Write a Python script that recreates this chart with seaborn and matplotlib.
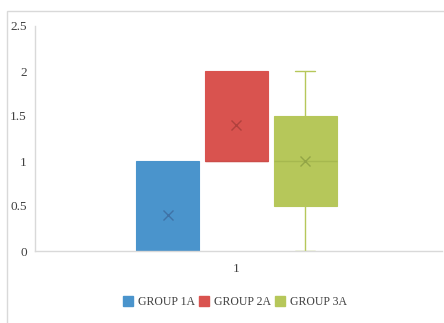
import matplotlib
matplotlib.use("Agg")
import matplotlib.pyplot as plt
import seaborn as sns
import pandas as pd
from matplotlib.patches import Patch, Rectangle

# ---- data ----
category = "1"
groups = ["GROUP 1A", "GROUP 2A", "GROUP 3A"]
group_1a = [0, 0, 0, 1, 1]
group_2a = [1, 1, 1, 2, 2]
group_3a = [0, 0.5, 1, 1.5, 2]
y_ticks = [0, 0.5, 1, 1.5, 2, 2.5]
y_tick_labels = ["0", "0.5", "1", "1.5", "2", "2.5"]

colors = ["#4A94CC", "#D9534F", "#B6C75A"]
line_colors = ["#4586BE", "#CC4D49", "#A6B84F"]
mean_colors = ["#3F72A6", "#B0413D", "#93A546"]

rows = []
for g, vals in zip(groups, [group_1a, group_2a, group_3a]):
    for v in vals:
        rows.append({"x": category, "group": g, "value": v})
df = pd.DataFrame(rows)

sns.set_theme(style="white")
plt.rcParams["font.family"] = ["Liberation Serif", "DejaVu Serif"]

fig = plt.figure(figsize=(4.44, 3.23), dpi=100)
W, H = 444, 323
ax = fig.add_axes([35 / W, (H - 251) / H, (442 - 35) / W, (251 - 26) / H])

sns.boxplot(
    data=df, x="x", y="value", hue="group", hue_order=groups,
    palette=colors, width=0.508, gap=0.087, showmeans=True, whis=1.5,
    meanprops=dict(marker="x", markersize=7, markeredgewidth=1.0),
    linewidth=1.0, legend=False, ax=ax,
)

for cont, c, lc, mc in zip(ax.containers, colors, line_colors, mean_colors):
    for b in cont.boxes:
        b.set_facecolor(c)
        b.set_edgecolor(c)
        b.set_linewidth(0.8)
    for wk, cap in zip(cont.whiskers, cont.caps):
        wk.set_color(c)
        wk.set_linewidth(1.0)
        cap.set_color(c)
        cap.set_linewidth(1.0)
        xd = list(cap.get_xdata())
        cx = (xd[0] + xd[1]) / 2
        half = (xd[1] - xd[0]) / 2 * 0.64
        cap.set_xdata([cx - half, cx + half])
        yd = list(wk.get_ydata())
        if yd[0] == yd[1]:
            wk.set_visible(False)
            cap.set_visible(False)
    for ln in cont.medians:
        ln.set_color(lc)
        ln.set_linewidth(1.0)
    for ln in cont.means:
        ln.set_markeredgecolor(mc)
        ln.set_markerfacecolor(mc)

ax.set_ylim(0, 2.5)
ax.set_xlim(-0.495, 0.505)
ax.set_yticks(y_ticks)
ax.set_yticklabels(y_tick_labels)
ax.set_xlabel("")
ax.set_ylabel("")
ax.tick_params(axis="both", length=0, labelsize=9.5, colors="#404040")
ax.tick_params(axis="y", pad=6)
ax.tick_params(axis="x", pad=9)
for s in ["top", "right"]:
    ax.spines[s].set_visible(False)
for s in ["left", "bottom"]:
    ax.spines[s].set_color("#D9D9D9")
    ax.spines[s].set_linewidth(1.0)
ax.grid(False)

handles = [Patch(facecolor=c, edgecolor=c) for c in colors]
fig.legend(handles, groups, loc="center", bbox_to_anchor=(235 / W, 1 - 302 / H),
           ncol=3, frameon=False, fontsize=8.5, handlelength=0.85, handleheight=0.85,
           handletextpad=0.4, columnspacing=0.35, labelcolor="#404040")

fig.patches.append(Rectangle((7 / W, -0.05), 1.0, (H - 11) / H + 0.05, transform=fig.transFigure,
                             fill=False, edgecolor="#D9D9D9", linewidth=1.0, figure=fig))

fig.savefig("out.png", dpi=100)
